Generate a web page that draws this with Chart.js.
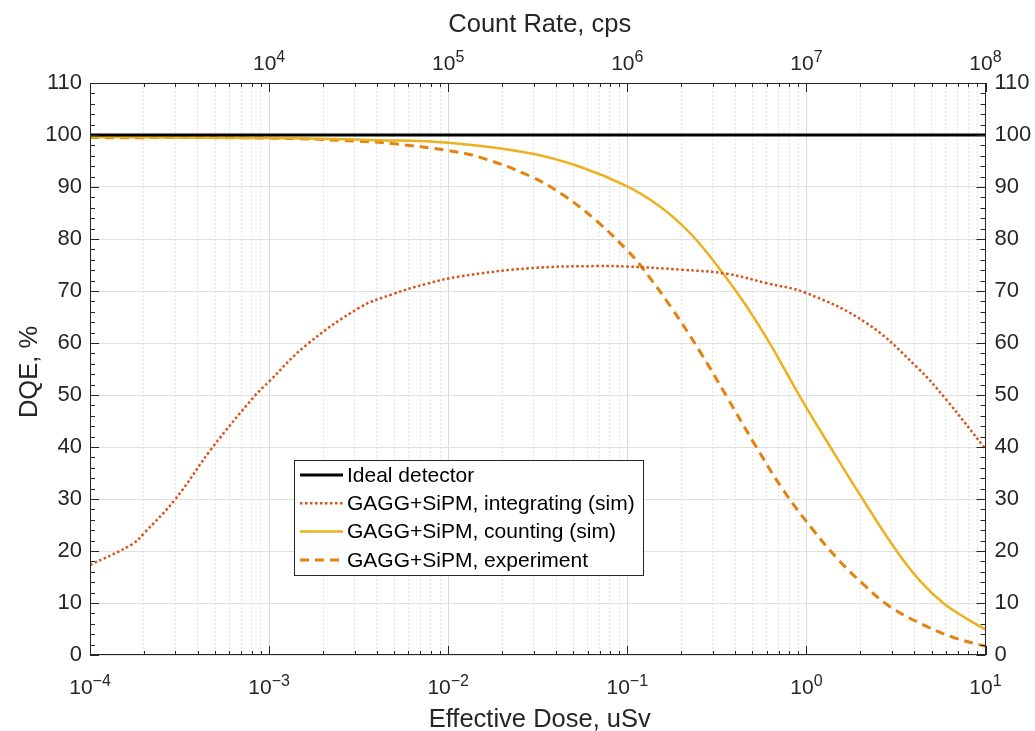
<!DOCTYPE html>
<html>
<head>
<meta charset="utf-8">
<script src="https://cdn.jsdelivr.net/npm/chart.js@4.4.0/dist/chart.umd.min.js"></script>
<style>
  body { margin: 0; background: #fff; }
  canvas { display: block; }
</style>
</head>
<body>
<canvas id="dqeChart" width="1035" height="731"></canvas>
<script>
// values (dose in uSv, DQE in %)
const doseIdeal = [1e-4, 10];
const dqeIdeal = [100, 100];

const doseInt = [1e-4, 1.72e-4, 2.0e-4, 3.0e-4, 4.8e-4, 8.3e-4, 1e-3, 1.6e-3, 3.2e-3, 4.9e-3, 7.6e-3, 1.16e-2, 2.9e-2, 6.8e-2, 0.1, 0.2, 0.36, 0.6, 1.0, 2.17, 4.13, 6.07, 10];
const dqeInt = [17.3, 21.3, 23.4, 30.0, 39.8, 49.8, 52.6, 59.5, 66.8, 69.4, 71.4, 72.8, 74.4, 74.8, 74.7, 74.1, 73.3, 71.5, 69.6, 63.8, 55.4, 49.0, 39.6];

const doseCount = [1e-4, 1e-3, 4e-3, 1e-2, 2.86e-2, 5.44e-2, 0.1, 0.15, 0.2, 0.255, 0.34, 0.46, 0.626, 0.92, 1.36, 2.06, 3.19, 4.3, 5.8, 7.85, 10];
const dqeCount = [99.6, 99.4, 99.0, 98.5, 96.5, 93.9, 90.1, 86.4, 82.8, 79.0, 73.5, 67.2, 59.9, 49.7, 40.0, 30.0, 20.0, 14.3, 10.0, 7.0, 4.9];

const doseExp = [1e-4, 1e-3, 3.2e-3, 5e-3, 1e-2, 1.51e-2, 2.86e-2, 4.37e-2, 6.78e-2, 0.1, 0.118, 0.177, 0.255, 0.359, 0.517, 0.743, 1.093, 1.54, 2.08, 2.93, 4.5, 6.6, 10];
const dqeExp = [99.5, 99.4, 98.8, 98.3, 97.0, 95.7, 92.1, 88.5, 83.4, 77.8, 75.0, 66.7, 58.3, 49.7, 40.4, 31.7, 24.0, 18.0, 13.6, 9.3, 5.8, 3.4, 1.7];

const seriesNames = ["Ideal detector", "GAGG+SiPM, integrating (sim)", "GAGG+SiPM, counting (sim)", "GAGG+SiPM, experiment"];

// tick values
const doseTicks = [1e-4, 1e-3, 1e-2, 1e-1, 1, 10];
const rateTicks = [1e3, 1e4, 1e5, 1e6, 1e7, 1e8];
const rateLabelTicks = [1e4, 1e5, 1e6, 1e7, 1e8];
const yTicks = [0, 10, 20, 30, 40, 50, 60, 70, 80, 90, 100, 110];

const FONT = "'Liberation Sans', Arial, Helvetica, sans-serif";
const TXT = "#262626";
const GRID = "#e0e0e0";

function pts(xs, ys) {
    return xs.map((x, i) => ({ x: x, y: ys[i] }));
}

function isDecade(v) {
    const l = Math.log10(v);
    return Math.abs(l - Math.round(l)) < 1e-9;
}

// decades plus 2..9 minor steps
function logTicks(decades) {
    const out = [];
    for (let i = 0; i < decades.length; i++) {
        out.push({ value: decades[i] });
        if (i < decades.length - 1) {
            for (let m = 2; m <= 9; m++) out.push({ value: decades[i] * m });
        }
    }
    return out;
}

function expText(v) {
    return String(Math.round(Math.log10(v))).replace("-", "\u2212");
}

function draw10(ctx, x, baseline, v) {
    const e = expText(v);
    ctx.font = "21px " + FONT;
    const w1 = ctx.measureText("10").width;
    ctx.font = "16px " + FONT;
    const w2 = ctx.measureText(e).width;
    const x0 = x - (w1 + w2) / 2;
    ctx.textAlign = "left";
    ctx.textBaseline = "alphabetic";
    ctx.font = "21px " + FONT;
    ctx.fillText("10", x0, baseline);
    ctx.font = "16px " + FONT;
    ctx.fillText(e, x0 + w1, baseline - 8);
}

const matlabLook = {
    id: "matlabLook",
    afterDraw(chart) {
        const { ctx, chartArea: a, scales } = chart;
        ctx.save();
        ctx.strokeStyle = TXT;
        ctx.fillStyle = TXT;
        ctx.lineWidth = 1;

        // axes box
        ctx.strokeRect(Math.round(a.left) + 0.5, Math.round(a.top) + 0.5,
            Math.round(a.right - a.left) - 1, Math.round(a.bottom - a.top) - 1);

        // inward ticks
        ctx.beginPath();
        scales.x.ticks.forEach(t => {
            const px = Math.round(scales.x.getPixelForValue(t.value)) + 0.5;
            const len = isDecade(t.value) ? 9 : 4;
            ctx.moveTo(px, a.bottom);
            ctx.lineTo(px, a.bottom - len);
        });
        scales.x2.ticks.forEach(t => {
            const px = Math.round(scales.x2.getPixelForValue(t.value)) + 0.5;
            const len = isDecade(t.value) ? 9 : 4;
            ctx.moveTo(px, a.top);
            ctx.lineTo(px, a.top + len);
        });
        for (let v = 0; v <= 110; v += 2) {
            const py = Math.round(scales.y.getPixelForValue(v)) + 0.5;
            const len = v % 10 === 0 ? 9 : 5;
            ctx.moveTo(a.left, py);
            ctx.lineTo(a.left + len, py);
            ctx.moveTo(a.right, py);
            ctx.lineTo(a.right - len, py);
        }
        ctx.stroke();

        // power-of-ten labels
        doseTicks.forEach(v => draw10(ctx, scales.x.getPixelForValue(v), 694, v));
        rateLabelTicks.forEach(v => draw10(ctx, scales.x2.getPixelForValue(v), 70, v));

        // axis titles
        ctx.font = "25.5px " + FONT;
        ctx.textAlign = "center";
        ctx.textBaseline = "alphabetic";
        const cx = (a.left + a.right) / 2;
        ctx.fillText("Count Rate, cps", cx + 2, 32);
        ctx.fillText("Effective Dose, uSv", cx + 2, 727);
        ctx.save();
        ctx.translate(37, (a.top + a.bottom) / 2 + 3);
        ctx.rotate(-Math.PI / 2);
        ctx.fillText("DQE, %", 0, 0);
        ctx.restore();

        // legend box
        const lx = 294, ly = 460, lw = 349, lh = 115;
        ctx.fillStyle = "#fff";
        ctx.fillRect(lx, ly, lw, lh);
        ctx.strokeStyle = TXT;
        ctx.lineWidth = 1;
        ctx.strokeRect(lx + 0.5, ly + 0.5, lw, lh);
        ctx.font = "21px " + FONT;
        ctx.textAlign = "left";
        ctx.textBaseline = "middle";
        chart.data.datasets.forEach((ds, i) => {
            const ry = 475 + i * 28.3;
            ctx.save();
            ctx.strokeStyle = ds.borderColor;
            ctx.lineWidth = ds.borderWidth;
            ctx.setLineDash(ds.borderDash || []);
            ctx.beginPath();
            ctx.moveTo(300, ry);
            ctx.lineTo(343, ry);
            ctx.stroke();
            ctx.restore();
            ctx.fillStyle = "#000";
            ctx.fillText(ds.label, 347, ry + 1);
        });
        ctx.restore();
    }
};

const chart = new Chart(document.getElementById("dqeChart"), {
    type: "line",
    data: {
        datasets: [{
            label: seriesNames[0],
            data: pts(doseIdeal, dqeIdeal),
            borderColor: "#000000",
            borderWidth: 3,
        }, {
            label: seriesNames[1],
            data: pts(doseInt, dqeInt),
            borderColor: "#D95319",
            borderWidth: 2.5,
            borderDash: [2.5, 2.5],
            tension: 0.4,
        }, {
            label: seriesNames[2],
            data: pts(doseCount, dqeCount),
            borderColor: "#EDB120",
            borderWidth: 2.5,
            tension: 0.4,
        }, {
            label: seriesNames[3],
            data: pts(doseExp, dqeExp),
            borderColor: "#E3820F",
            borderWidth: 3,
            borderDash: [9, 6],
            tension: 0.4,
        }]
    },
    options: {
        responsive: false,
        animation: false,
        layout: { padding: 0 },
        elements: { point: { radius: 0 } },
        plugins: {
            legend: { display: false },
            tooltip: { enabled: false },
        },
        scales: {
            x: {
                type: "logarithmic",
                position: "bottom",
                min: 1e-4,
                max: 10,
                afterBuildTicks: s => { s.ticks = logTicks(doseTicks); },
                afterFit: s => { s.height = 76; },
                ticks: { callback: () => "", autoSkip: false },
                grid: {
                    drawTicks: false,
                    lineWidth: 1,
                    color: c => isDecade(c.tick.value) ? "#dadada" : "#e2e2e2",
                },
                border: {
                    display: false,
                    dash: c => (c.tick && !isDecade(c.tick.value)) ? [2, 2] : [],
                },
            },
            x2: {
                type: "logarithmic",
                position: "top",
                min: 1e3,
                max: 1e8,
                afterBuildTicks: s => { s.ticks = logTicks(rateTicks); },
                afterFit: s => { s.height = 83; },
                ticks: { callback: () => "", autoSkip: false },
                grid: { drawOnChartArea: false, drawTicks: false },
                border: { display: false },
            },
            y: {
                position: "left",
                min: 0,
                max: 110,
                afterBuildTicks: s => { s.ticks = yTicks.map(v => ({ value: v })); },
                afterFit: s => { s.width = 90; },
                ticks: {
                    padding: 8,
                    color: TXT,
                    font: { family: FONT, size: 22 },
                },
                grid: { drawTicks: false, color: GRID, lineWidth: 1 },
                border: { display: false },
            },
            y2: {
                position: "right",
                min: 0,
                max: 110,
                afterBuildTicks: s => { s.ticks = yTicks.map(v => ({ value: v })); },
                afterFit: s => { s.width = 49.5; },
                ticks: {
                    padding: 9,
                    color: TXT,
                    font: { family: FONT, size: 22 },
                },
                grid: { drawOnChartArea: false, drawTicks: false },
                border: { display: false },
            },
        }
    },
    plugins: [matlabLook]
});
</script>
</body>
</html>
